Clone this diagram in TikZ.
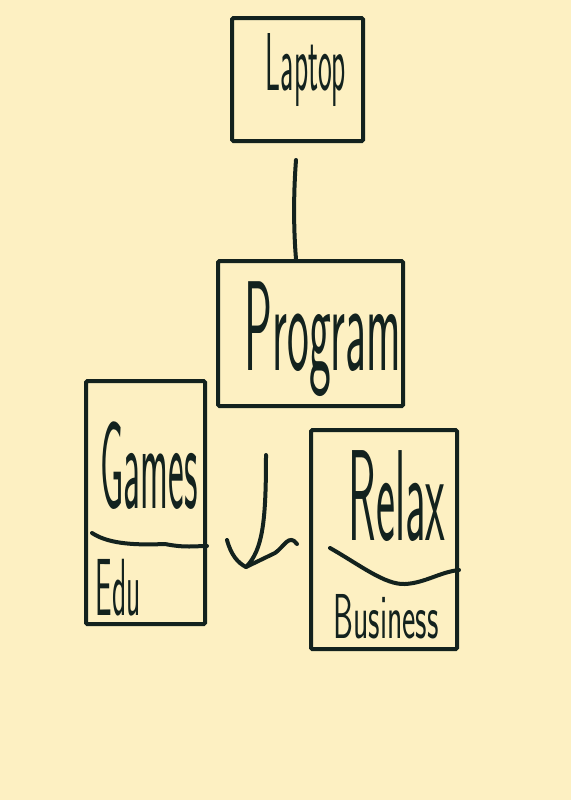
\documentclass[tikz,border=0pt]{standalone}
\usepackage{tikz}
\definecolor{paper}{HTML}{FDF0C2}
\definecolor{ink}{HTML}{13221E}

\begin{document}
\begin{tikzpicture}
  [x=0.75pt,y=0.75pt,
   box/.style={draw=ink,line width=3pt,inner sep=0pt,rounded corners=1pt},
   hand/.style={font=\sffamily,text=ink,anchor=base,inner sep=0pt,transform shape},
   pen/.style={draw=ink,line width=3pt,line cap=round,line join=round}]
  \fill[paper] (0,0) rectangle (571,-800);

  % boxes
  \node[box,minimum width=98.25pt,minimum height=92.25pt] (laptop) at (297.5,-79.5) {};
  \node[box,minimum width=138.75pt,minimum height=108.75pt] (program) at (310.5,-333.5) {};
  \node[box,minimum width=89.25pt,minimum height=182.25pt] (games) at (145.5,-502.5) {};
  \node[box,minimum width=109.5pt,minimum height=164.25pt] (relax) at (384,-539.5) {};

  % labels
  \node[hand,xscale=.5,yscale=1.4,font=\sffamily\fontsize{44}{44}\selectfont] (laptoptxt) at (306,-90) {Laptop};
  \node[hand,xscale=.58,yscale=1.6,font=\sffamily\fontsize{60}{60}\selectfont] (programtxt) at (323,-370) {Program};
  \node[hand,xscale=.54,yscale=1.8,font=\sffamily\fontsize{52}{52}\selectfont] (gamestxt) at (149,-508) {Games};
  \node[hand,xscale=.58,yscale=1.6,font=\sffamily\fontsize{38}{38}\selectfont] (edutxt) at (118,-615) {Edu};
  \node[hand,xscale=.63,yscale=1.8,font=\sffamily\fontsize{54}{54}\selectfont] (relaxtxt) at (397,-540) {Relax};
  \node[hand,xscale=.7,yscale=1.4,font=\sffamily\fontsize{34}{34}\selectfont] (businesstxt) at (386,-638) {Business};

  % stem from laptop to program
  \coordinate (stem) at (296,-160);
  \draw[pen] (stem) .. controls (293,-200) and (294,-235) .. (program.north -| stem);

  % dividers
  \draw[pen] (92,-533) .. controls (110,-545) and (140,-545) .. (165,-544)
             .. controls (185,-548) and (195,-546) .. (games.east |- 0,-546);
  \draw[pen] (330,-548) .. controls (360,-565) and (385,-585) .. (405,-584)
             .. controls (425,-583) and (440,-572) .. (relax.east |- 0,-570);

  % hook
  \coordinate (tip) at (246,-567);
  \draw[pen] (266,-455) .. controls (266,-520) and (263,-550) .. (tip);
  \draw[pen] (227,-540) .. controls (231,-555) and (238,-563) .. (tip)
             -- (275,-553) .. controls (284,-547) and (289,-533) .. (297,-544);
\end{tikzpicture}
\end{document}
